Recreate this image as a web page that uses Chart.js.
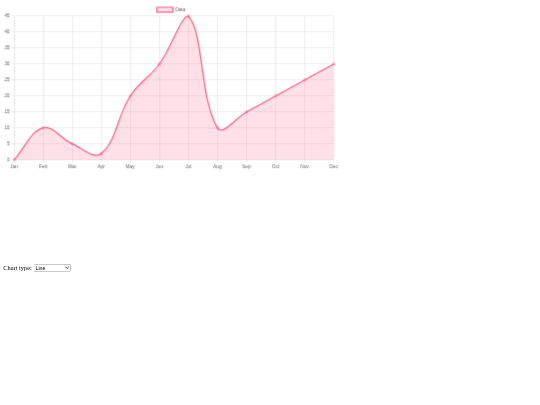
<!DOCTYPE html>
<html lang="en">
<head>
    <meta charset="UTF-8">
    <title>Chart</title>
    <script src="https://cdn.jsdelivr.net/npm/chart.js"></script>
    <style>
        body { margin: 0; overflow: hidden; }
        /* la page d'origine est vue réduite à 40 % */
        #page { width: 1334px; padding: 8px; transform: scale(0.4); transform-origin: 0 0; }
        #chartBox { width: 840px; height: 420px; }
        #controls { margin-top: 232px; }
        #chartType { width: 93px; }
    </style>
</head>
<body>
<div id="page">
    <div id="chartBox">
        <canvas id="myChart" width="840" height="420"></canvas>
    </div>
    <div id="controls">
        <label for="chartType">Chart type:</label>
        <select id="chartType">
            <option value="line">Line</option>
            <option value="bar">Bar</option>
            <option value="radar">Radar</option>
            <option value="polarArea">Polar Area</option>
        </select>
    </div>
</div>

    <script>
        // données du graphique
        const months = ['Jan', 'Feb', 'Mar', 'Apr', 'May', 'Jun', 'Jul', 'Aug', 'Sep', 'Oct', 'Nov', 'Dec'];
        const values = [0, 10, 5, 2, 20, 30, 45, 10, 15, 20, 25, 30];
        const seriesLabel = 'Data';

        Chart.defaults.font.family = "Arial, 'Liberation Sans', Helvetica, sans-serif";

        let myChart;

        function createChart(type) {
            if (myChart) myChart.destroy();
            const ctx = document.getElementById('myChart').getContext('2d');
            const axes = type === 'line' || type === 'bar';
            myChart = new Chart(ctx, {
                type: type,
                data: {
                    labels: months,
                    datasets: [{
                        label: seriesLabel,
                        data: values,
                        borderColor: 'rgb(245, 95, 130)',
                        backgroundColor: 'rgba(255, 99, 132, 0.2)',
                        tension: 0.4,
                        fill: true
                    }]
                },
                options: {
                    responsive: false,
                    // le canevas est affiché à 0.4, on dessine directement à cette taille
                    devicePixelRatio: 0.4,
                    animation: false,
                    scales: axes ? {
                        x: { grid: { lineWidth: 2 } },
                        y: { beginAtZero: true, grid: { lineWidth: 2 } }
                    } : {}
                }
            });
        }

        document.getElementById('chartType').addEventListener('change', e => createChart(e.target.value));
        createChart('line');
    </script>
</body>
</html>
